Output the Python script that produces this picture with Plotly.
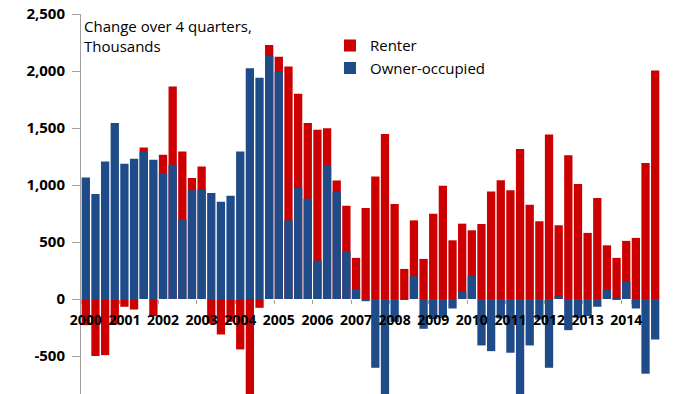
import plotly.graph_objects as go

years = [str(y) for y in range(2000, 2015)]
quarters = ["Q1", "Q2", "Q3", "Q4"]
categories = [f"{y} {q}" for y in years for q in quarters]

renter = [-229, -500, -492, -223, -68, -92, 1329, -150, 1265, 1864,
          1294, 1061, 1163, -215, -311, -200, -442, -900, -77, 2229,
          2126, 2039, 1800, 1543, 1484, 1499, 1040, 819, 361, 798,
          1075, 1447, 833, 264, 690, 352, 749, 994, 515, 661,
          603, 658, 944, 1041, 955, 1315, 828, 682, 1443, 647,
          1262, 1009, 580, 886, 471, 361, 510, 536, 1193, 2004]

owner = [1067, 921, 1207, 1543, 1187, 1230, 1294, 1222, 1105, 1178,
         702, 955, 959, 930, 854, 906, 1294, 2024, 1940, 2132,
         1995, 690, 974, 880, 337, 1172, 939, 419, 89, -19,
         -603, -900, -200, -5, 200, -261, -175, -165, -83, 68,
         206, -407, -457, -170, -471, -900, -407, -180, -603, 25,
         -273, -165, -150, -68, 83, 5, 150, -83, -655, -355]

y_ticks = [-500, 0, 500, 1000, 1500, 2000, 2500]
y_ticktext = ["-500", "0", "500", "1,000", "1,500", "2,000", "2,500"]
y_min, y_max = -833, 2500

RED = "#CC0000"
BLUE = "#1F4B88"
FONT = "Open Sans"

fig = go.Figure()
fig.add_trace(go.Bar(x=categories, y=renter, name="Renter",
                     marker=dict(color=RED, line=dict(width=0))))
fig.add_trace(go.Bar(x=categories, y=owner, name="Owner-occupied",
                     marker=dict(color=BLUE, line=dict(width=0))))

zero_pos = (0 - y_min) / (y_max - y_min)

fig.update_layout(
    width=700, height=394,
    margin=dict(l=81, r=40, t=14, b=0),
    paper_bgcolor="white", plot_bgcolor="white",
    barmode="overlay", bargap=0.14,
    font=dict(family=FONT, color="black"),
    showlegend=True,
    legend=dict(x=0.43, y=0.96, xanchor="left", yanchor="top",
                font=dict(family=FONT, size=15, color="black"),
                bgcolor="rgba(0,0,0,0)", tracegroupgap=0),
    xaxis=dict(type="category", range=[-0.5, 59.5],
               anchor="free", position=zero_pos, automargin=False,
               tickmode="array", tickvals=[f"{y} Q1" for y in years],
               ticktext=years, tickson="boundaries", tickangle=0,
               ticks="outside", ticklen=4, tickcolor="#A0A0A0",
               ticklabelstandoff=11, ticklabeloverflow="allow",
               showline=False, showgrid=False, zeroline=False,
               tickfont=dict(family=FONT, size=14, color="black", weight="bold")),
    yaxis=dict(range=[y_min, y_max], tickmode="array", tickvals=y_ticks,
               ticktext=y_ticktext, ticks="outside", ticklen=8,
               automargin=False, ticklabeloverflow="allow",
               tickcolor="#A0A0A0", showline=True, linecolor="#A0A0A0",
               linewidth=1, showgrid=False, zeroline=False,
               ticklabelstandoff=4,
               tickfont=dict(family=FONT, size=15, color="black", weight="bold")),
    annotations=[dict(text="Change over 4 quarters,<br>Thousands",
                      xref="paper", yref="paper", x=0, y=1,
                      xanchor="left", yanchor="top", align="left",
                      showarrow=False, xshift=1,
                      font=dict(family=FONT, size=15, color="black"))],
)

fig.write_html("out.html",
               config={"displayModeBar": False},
               post_script="document.body.style.margin='0';"
                           "document.body.style.overflow='hidden';")
